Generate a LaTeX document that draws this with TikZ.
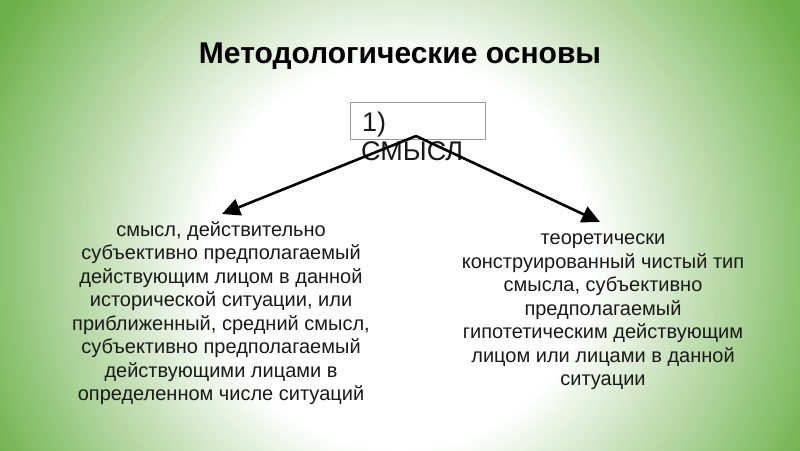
\documentclass[tikz,border=0pt]{standalone}
\usepackage{fontspec}
\setmainfont{Liberation Sans}
\usetikzlibrary{arrows.meta}
\definecolor{bggreen}{HTML}{6CB049}
\tikzset{
  bodytext/.style={font=\fontsize{20}{23.5}\selectfont, align=center, text=black!90, inner sep=0pt},
  conn/.style={line width=2.6pt, -{Triangle[length=18pt, width=17pt, fill=black]}},
  boxtext/.style={font=\fontsize{27}{30}\selectfont, anchor=base west, inner sep=0pt, text=black!90},
}
\begin{document}
\begin{tikzpicture}[x=1pt,y=-1pt]
\useasboundingbox (0,0) rectangle (800,450);
\begin{scope}
\clip (0,0) rectangle (800,450);
\fill[bggreen] (0,0) rectangle (800,450);
\foreach \i in {0,...,80}{
  \pgfmathsetmacro{\rr}{460-\i*(265/80)}
  \pgfmathsetmacro{\pp}{100-\i*1.25}
  \fill[bggreen!\pp!white] (400,255) circle (\rr pt);
}
\end{scope}
\node[font=\bfseries\fontsize{30}{34}\selectfont] (title) at (400,56) {Методологические основы};
\node[draw=gray!80, line width=0.8pt, minimum width=135pt, minimum height=37pt, anchor=north west, inner sep=0pt] (box) at (350,102) {};
\node[boxtext] (t1) at (362,131) {1)};
\node[boxtext] (t2) at (361,160) {СМЫСЛ};
\coordinate (top) at (416,136);
\node[bodytext] (left) at (221,313) {смысл, действительно\\субъективно предполагаемый\\действующим лицом в данной\\исторической ситуации, или\\приближенный, средний смысл,\\субъективно предполагаемый\\действующими лицами в\\определенном числе ситуаций};
\node[bodytext] (right) at (603,312) {теоретически\\конструированный чистый тип\\смысла, субъективно\\предполагаемый\\гипотетическим действующим\\лицом или лицами в данной\\ситуации};
\coordinate (lt) at (222,214);
\coordinate (rt) at (600,222);
\draw[conn] (top) -- (lt);
\draw[conn] (top) -- (rt);
\end{tikzpicture}
\end{document}
